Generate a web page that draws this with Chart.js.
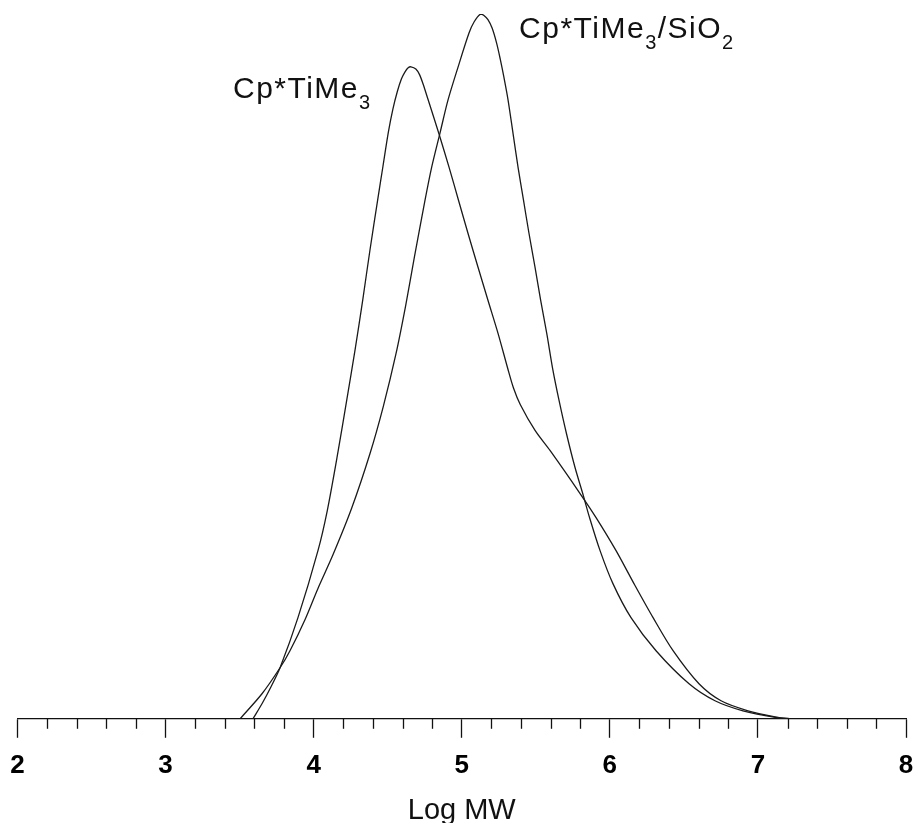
<!DOCTYPE html>
<html>
<head>
<meta charset="utf-8">
<title>GPC traces</title>
<script src="https://cdn.jsdelivr.net/npm/chart.js@4.4.1/dist/chart.umd.min.js"></script>
<style>
    html, body { margin: 0; padding: 0; background: #fff; }
    #wrap { width: 917px; height: 823px; position: relative; }
</style>
</head>
<body>
<div id="wrap"><canvas id="gpcChart"></canvas></div>
<script>
// --- DATA (y is relative height, peak of the SiO2 trace = 100) ---
const xTicks = [2, 3, 4, 5, 6, 7, 8];
const seriesNames = [
    [['Cp*TiMe', false], ['3', true]],
    [['Cp*TiMe', false], ['3', true], ['/SiO', false], ['2', true]]
];

// Cp*TiMe3
const logMwA = [3.590, 3.651, 3.712, 3.773, 3.894, 4.029, 4.092, 4.166, 4.223, 4.279, 4.331, 4.380, 4.432,
    4.468, 4.505, 4.535, 4.565, 4.593, 4.617, 4.640, 4.657, 4.690, 4.715, 4.740, 4.772, 4.846, 4.914, 4.978,
    5.042, 5.110, 5.177, 5.245, 5.312, 5.350, 5.395, 5.495, 5.596, 5.799, 5.907, 6.042, 6.163, 6.292, 6.427,
    6.602, 6.751, 6.933, 7.116, 7.217];
const heightA = [0, 2.13, 4.55, 7.24, 14.35, 23.86, 29.55, 38.07, 45.17, 52.27, 59.38, 66.48, 73.58,
    78.4, 83.3, 86.5, 89.0, 90.8, 91.8, 92.4, 92.51, 92.2, 91.4, 90.0, 87.9, 83.0, 78.27, 73.58,
    68.89, 64.06, 59.38, 54.69, 49.6, 46.9, 44.6, 40.91, 38.07, 31.96, 28.55, 23.86, 19.18, 14.35, 9.66,
    4.97, 2.56, 1.14, 0.28, 0];

// Cp*TiMe3/SiO2
const logMwB = [3.503, 3.651, 3.773, 3.840, 3.942, 4.029, 4.131, 4.257, 4.380, 4.470, 4.556, 4.621, 4.681,
    4.752, 4.797, 4.853, 4.907, 4.975, 5.049, 5.083, 5.127, 5.150, 5.177, 5.205, 5.235, 5.260, 5.285, 5.312,
    5.346, 5.380, 5.417, 5.454, 5.495, 5.533, 5.574, 5.616, 5.657, 5.707, 5.765, 5.817, 5.863, 5.934, 6.021,
    6.143, 6.312, 6.535, 6.710, 6.899, 7.136, 7.217];
const heightB = [0, 3.55, 7.24, 9.66, 14.1, 18.5, 23.3, 29.9, 37.6, 44.3, 51.8, 58.6, 65.6,
    73.58, 78.27, 83.10, 87.78, 92.47, 97.30, 98.86, 100, 99.8, 99.2, 98.0, 95.9, 93.6, 91.0, 87.9,
    83.10, 78.27, 73.58, 68.89, 64.06, 59.38, 54.69, 49.43, 45.17, 40.48, 35.65, 31.96, 28.55, 23.86, 19.18,
    14.35, 9.66, 4.97, 2.56, 1.14, 0.14, 0];

const FONT = '"Liberation Sans", Arial, Helvetica, sans-serif';

function toPoints(xs, ys) {
    return xs.map((x, i) => ({ x: x, y: ys[i] }));
}

function isMajor(v) {
    return Math.abs(v - Math.round(v)) < 1e-6;
}

// minor ticks (every 0.2) are shorter than the labelled ones
const minorTicks = {
    id: 'minorTicks',
    afterDraw(chart) {
        const x = chart.scales.x;
        const ctx = chart.ctx;
        const y0 = x.top;
        ctx.save();
        ctx.strokeStyle = '#111';
        ctx.lineWidth = 1.3;
        for (let v = xTicks[0]; v < xTicks[xTicks.length - 1] - 1e-6; v += 0.2) {
            if (isMajor(v)) continue;
            const px = Math.round(x.getPixelForValue(v)) + 0.5;
            ctx.beginPath();
            ctx.moveTo(px, y0);
            ctx.lineTo(px, y0 + 10);
            ctx.stroke();
        }
        ctx.restore();
    }
};

// curve labels with subscripts, placed in data coordinates
const curveLabels = {
    id: 'curveLabels',
    afterDatasetsDraw(chart, args, opts) {
        const ctx = chart.ctx;
        const xs = chart.scales.x, ys = chart.scales.y;
        ctx.save();
        ctx.fillStyle = '#111';
        ctx.textBaseline = 'alphabetic';
        ctx.letterSpacing = '1.5px';
        opts.items.forEach(item => {
            let px = xs.getPixelForValue(item.x);
            const py = ys.getPixelForValue(item.y);
            item.parts.forEach(([txt, sub]) => {
                ctx.font = (sub ? 20 : 30) + 'px ' + FONT;
                ctx.fillText(txt, px, sub ? py + 11 : py);
                px += ctx.measureText(txt).width;
            });
        });
        ctx.restore();
    }
};

const lineStyle = {
    borderColor: '#1a1a1a',
    borderWidth: 1.3,
    pointRadius: 0,
    fill: false,
    tension: 0.3
};

new Chart(document.getElementById('gpcChart'), {
    type: 'line',
    data: {
        datasets: [
            Object.assign({ label: 'Cp*TiMe3', data: toPoints(logMwA, heightA) }, lineStyle),
            Object.assign({ label: 'Cp*TiMe3/SiO2', data: toPoints(logMwB, heightB) }, lineStyle)
        ]
    },
    options: {
        responsive: true,
        maintainAspectRatio: false,
        animation: false,
        layout: { padding: { left: 17.5, right: 11, top: 14, bottom: 0 } },
        plugins: {
            legend: { display: false },
            tooltip: { enabled: false },
            curveLabels: {
                items: [
                    { x: 3.455, y: 88.1, parts: seriesNames[0] },
                    { x: 5.387, y: 96.6, parts: seriesNames[1] }
                ]
            }
        },
        scales: {
            x: {
                type: 'linear',
                min: xTicks[0],
                max: xTicks[xTicks.length - 1],
                // the end labels may hang over the plot edges, like the original
                afterFit: (scale) => { scale.paddingLeft = 0; scale.paddingRight = 0; },
                border: { display: true, color: '#111', width: 1.3 },
                grid: {
                    drawOnChartArea: false,
                    tickLength: 19,
                    tickWidth: 1.3,
                    tickColor: (c) => (c.tick && isMajor(c.tick.value)) ? '#111' : 'rgba(0,0,0,0)'
                },
                ticks: {
                    stepSize: 0.2,
                    autoSkip: false,
                    maxRotation: 0,
                    padding: 12,
                    color: '#000',
                    font: { family: FONT, size: 26, weight: 'bold' },
                    callback: (v) => isMajor(v) ? String(Math.round(v)) : ''
                },
                title: {
                    display: true,
                    text: 'Log MW',
                    color: '#111',
                    font: { family: FONT, size: 29, lineHeight: 0.828 },
                    padding: { top: 6, bottom: 0 }
                }
            },
            y: {
                display: false,
                min: 0,
                max: 100
            }
        }
    },
    plugins: [minorTicks, curveLabels]
});
</script>
</body>
</html>
